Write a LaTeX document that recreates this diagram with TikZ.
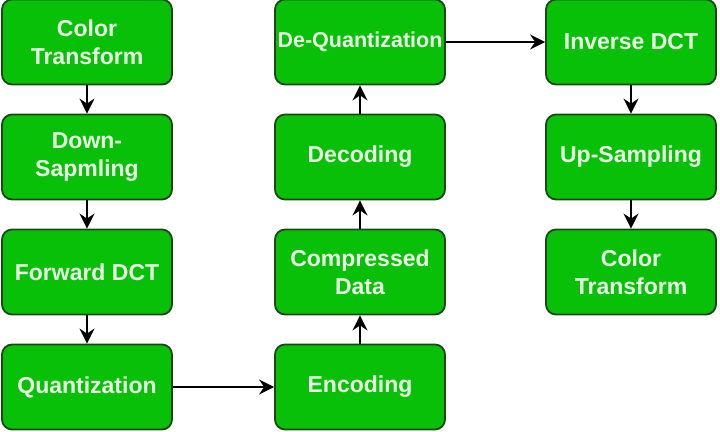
\documentclass[tikz,border=0pt]{standalone}
\usepackage{fontspec}
\setmainfont{Liberation Sans}
\usepackage{tikz}
\usetikzlibrary{arrows.meta}

\definecolor{boxgreen}{RGB}{8,192,8}
\definecolor{boxedge}{RGB}{30,70,25}
\definecolor{boxtext}{RGB}{235,255,230}

\begin{document}
\begin{tikzpicture}[x=1pt,y=1pt,
    stage/.style={draw=boxedge,fill=boxgreen,line width=1.8pt,rounded corners=10pt,
      minimum width=170pt,minimum height=85pt,inner sep=1pt,align=center,
      text=boxtext,font=\fontsize{23}{28}\selectfont\bfseries},
    flow/.style={-{Stealth[length=15pt,width=15pt,inset=5pt]},line width=1.8pt,black}]
  \useasboundingbox (0,0) rectangle (720,431);
  % left column: encoder side
  \node[stage] (ct1)   at (87,389) {Color\\Transform};
  \node[stage] (down)  at (87,274) {Down-\\Sapmling};
  \node[stage] (fdct)  at (87,159) {Forward DCT};
  \node[stage] (quant) at (87,44)  {Quantization};
  % middle column
  \node[stage] (enc)   at (360,44)  {Encoding};
  \node[stage] (comp)  at (360,159) {Compressed\\Data};
  \node[stage] (dec)   at (360,274) {Decoding};
  \node[stage,font=\fontsize{21.5}{28}\selectfont\bfseries] (dequant) at (360,389) {De-Quantization};
  % right column: decoder side
  \node[stage] (idct)  at (631,389) {Inverse DCT};
  \node[stage] (up)    at (631,274) {Up-Sampling};
  \node[stage] (ct2)   at (631,159) {Color\\Transform};

  \draw[flow] (ct1) -- (down);
  \draw[flow] (down) -- (fdct);
  \draw[flow] (fdct) -- (quant);
  \draw[flow] (quant) -- (enc);
  \draw[flow] (enc) -- (comp);
  \draw[flow] (comp) -- (dec);
  \draw[flow] (dec) -- (dequant);
  \draw[flow] (dequant) -- (idct);
  \draw[flow] (idct) -- (up);
  \draw[flow] (up) -- (ct2);
\end{tikzpicture}
\end{document}
